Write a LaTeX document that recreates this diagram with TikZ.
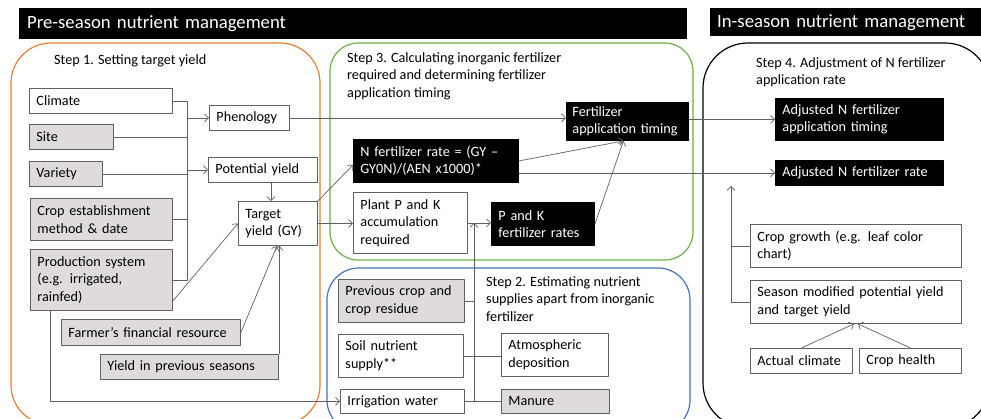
\documentclass[tikz,border=0pt]{standalone}
\usepackage{fontspec}
\setmainfont{Carlito}
\usetikzlibrary{arrows.meta}
\definecolor{boxgray}{RGB}{223,219,220}
\definecolor{edge}{RGB}{96,96,96}
\definecolor{stepone}{RGB}{237,125,49}
\definecolor{steptwo}{RGB}{68,114,196}
\definecolor{stepthree}{RGB}{112,173,71}
\begin{document}
\begin{tikzpicture}[x=1pt, y=-1pt, font={\fontsize{14.2}{17.5}\selectfont}, line join=round, >={Straight Barb[length=4pt,width=8pt]},
	wb/.style={draw=edge, line width=0.9pt, fill=white, anchor=north west, align=left, inner xsep=7pt, inner ysep=1pt},
	gb/.style={wb, fill=boxgray},
	kb/.style={wb, draw=black, fill=black, text=white},
	hdr/.style={fill=black, text=white, anchor=north west, align=left, inner xsep=8pt, font={\fontsize{18.7}{22}\selectfont}},
	steplabel/.style={anchor=north west, inner sep=0pt, align=left},
	ln/.style={draw=edge, line width=0.7pt},
	frame/.style={line width=1.2pt}]
	\useasboundingbox (0,0) rectangle (981,419);
	% headers
	\node[hdr, text width=652pt, minimum height=31pt] (pre) at (19,8) {Pre-season nutrient management};
	\node[hdr, inner xsep=7pt, text width=257pt, minimum height=28pt] (in) at (710,8) {In-season nutrient management};
	% step frames
	\draw[frame, stepone, rounded corners=40pt] (11,43) rectangle (320,425);
	\draw[frame, stepthree, rounded corners=28pt] (330,43) rectangle (693,260);
	\draw[frame, steptwo, rounded corners=32pt] (327,268) rectangle (690,432);
	\draw[frame, black, rounded corners=45pt] (703,43) rectangle (990,428);
	\node[steplabel] (s1) at (54,54) {Step 1. Setting target yield};
	\node[steplabel] (s3) at (347,52) {Step 3. Calculating inorganic fertilizer\\required and determining fertilizer\\application timing};
	\node[steplabel] (s2) at (486,276) {Step 2. Estimating nutrient\\supplies apart from inorganic\\fertilizer};
	\node[steplabel] (s4) at (756,57) {Step 4. Adjustment of N fertilizer\\application rate};
	% step 1
	\node[wb, text width=129pt, minimum height=25pt] (climate) at (29,88) {Climate};
	\node[gb, text width=70pt, minimum height=25pt] (site) at (29,124) {Site};
	\node[gb, text width=59pt, minimum height=25pt] (variety) at (29,161) {Variety};
	\node[gb, text width=128pt, minimum height=42pt] (cropest) at (30,198) {Crop establishment\\method \& date};
	\node[gb, text width=128pt, minimum height=61pt] (prodsys) at (30,249) {Production system\\(e.g. irrigated,\\rainfed)};
	\node[gb, text width=165pt, minimum height=26pt] (farmer) at (61,319) {Farmer’s financial resource};
	\node[gb, text width=164pt, minimum height=25pt] (prevyield) at (100,354) {Yield in previous seasons};
	\node[wb, text width=66pt, minimum height=25pt] (pheno) at (209,105) {Phenology};
	\node[wb, text width=95pt, minimum height=25pt] (potyield) at (208,157) {Potential yield};
	\node[wb, text width=65pt, minimum height=44pt] (target) at (238,201) {Target\\yield (GY)};
	% step 3
	\node[kb, text width=151pt, minimum height=43pt] (nrate) at (353,139) {N fertilizer rate = (GY –\\GY0N)/(AEN x1000)*};
	\node[kb, inner xsep=6pt, text width=110pt, minimum height=38pt] (timing) at (566,102) {Fertilizer\\application timing};
	\node[wb, text width=100pt, minimum height=61pt] (plantpk) at (353,192) {Plant P and K\\accumulation\\required};
	\node[kb, text width=89pt, minimum height=43pt] (pkrates) at (491,202) {P and K\\fertilizer rates};
	% step 2
	\node[gb, text width=112pt, minimum height=43pt] (prevcrop) at (338,279) {Previous crop and\\crop residue};
	\node[wb, text width=111pt, minimum height=43pt] (soil) at (338,334) {Soil nutrient\\supply**};
	\node[wb, text width=110pt, minimum height=24pt] (irrig) at (340,389) {Irrigation water};
	\node[wb, text width=93pt, minimum height=43pt] (atmos) at (501,333) {Atmospheric\\deposition};
	\node[gb, text width=94pt, minimum height=24pt] (manure) at (501,389) {Manure};
	% step 4
	\node[kb, text width=154pt, minimum height=42pt] (adjtiming) at (775,98) {Adjusted N fertilizer\\application timing};
	\node[kb, text width=154pt, minimum height=25pt] (adjrate) at (775,160) {Adjusted N fertilizer rate};
	\node[wb, text width=197pt, minimum height=43pt] (cropgrowth) at (750,224) {Crop growth (e.g. leaf color\\chart)};
	\node[wb, text width=197pt, minimum height=43pt] (seasonmod) at (750,280) {Season modified potential yield\\and target yield};
	\node[wb, text width=88pt, minimum height=25pt] (actclim) at (750,348) {Actual climate};
	\node[wb, text width=88pt, minimum height=25pt] (crophealth) at (859,348) {Crop health};
	% connectors, step 1
	\coordinate (bus) at (187,0);
	\draw[ln] (climate.east) -| (prodsys.east -| bus) -- (prodsys.east);
	\foreach \b in {site,variety,cropest} \draw[ln] (\b.east) -- (\b.east -| bus);
	\foreach \b in {pheno,potyield} \draw[ln,->] (\b.west -| bus) -- (\b.west);
	\draw[ln,->] ([xshift=-7pt]target.north |- potyield.south) -- ([xshift=-7pt]target.north);
	\draw[ln,->] ([yshift=10pt]prodsys.south east) -- (target.west);
	\draw[ln,->] (farmer.east) -- ([xshift=-1pt]target.south);
	\draw[ln,->] (prevyield.north east) -- (prevyield.north east |- target.south);
	\draw[ln,->] ([xshift=20pt]prodsys.south west) |- (irrig.west);
	% connectors, step 3
	\draw[ln,->] (pheno.east) -- (pheno.east -| timing.west);
	\draw[ln,->] (target.east) -- (target.east -| plantpk.west);
	\draw[ln,->] (target.north east) -- ([yshift=-4pt]nrate.west);
	\draw[ln,->] (nrate.east) -- ([xshift=-4pt]timing.south);
	\draw[ln,->] (pkrates.east) -- ([xshift=-4pt]timing.south);
	\draw[ln,->] (plantpk.east) -- (plantpk.east -| pkrates.west);
	\draw[ln,->] (nrate.east |- adjrate.west) -- (adjrate.west);
	\draw[ln,->] (timing.east |- adjtiming.west) -- (adjtiming.west);
	% connectors, step 2
	\coordinate (sup) at (474,0);
	\draw[ln,->] (irrig.east -| sup) -- (plantpk.east -| sup);
	\draw[ln] (irrig.east) -- (manure.west);
	\draw[ln] (prevcrop.east) -- (prevcrop.east -| sup);
	\draw[ln] (soil.east) -- (soil.east -| atmos.west);
	% connectors, step 4
	\coordinate (fb) at (731,0);
	\draw[ln] (cropgrowth.west) -- (cropgrowth.west -| fb);
	\draw[ln,->] (seasonmod.west) -| (adjrate.south -| fb);
	\draw[ln,->] (actclim.north) -- ([xshift=-2pt]seasonmod.south);
	\draw[ln,->] (crophealth.north) -- ([xshift=2pt]seasonmod.south);
\end{tikzpicture}
\end{document}
